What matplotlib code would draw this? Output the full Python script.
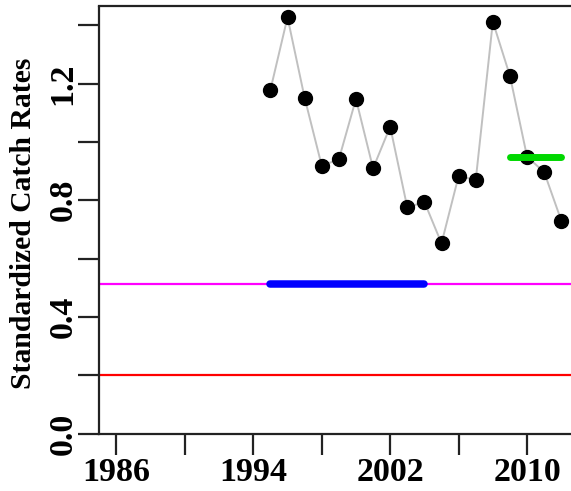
import matplotlib
matplotlib.use("Agg")
import matplotlib.pyplot as plt
from matplotlib.ticker import FixedLocator

years = [1995, 1996, 1997, 1998, 1999, 2000, 2001, 2002, 2003, 2004,
         2005, 2006, 2007, 2008, 2009, 2010, 2011, 2012]
rates = [1.178, 1.427, 1.151, 0.918, 0.940, 1.147, 0.909, 1.052, 0.775, 0.794,
         0.652, 0.883, 0.869, 1.412, 1.226, 0.949, 0.896, 0.730]

ref_magenta = 0.512
ref_red = 0.200
blue_years = [1995, 2004]
blue_value = 0.512
green_years = [2009, 2012]
green_value = 0.949

xticks_major = [1986, 1994, 2002, 2010]
xticks_minor = [1990, 1998, 2006]
yticks_major = [0.0, 0.4, 0.8, 1.2]
yticks_minor = [0.2, 0.6, 1.0, 1.4]
ytick_labels = ["0.0", "0.4", "0.8", "1.2"]

plt.rcParams['font.family'] = ['Liberation Serif', 'DejaVu Serif']
plt.rcParams['font.weight'] = 'bold'

fig = plt.figure(figsize=(5.71, 4.91), dpi=100)
ax = fig.add_axes([99.3/571, 1-433.5/491, (578.4-99.3)/571, (433.5-6.5)/491])
ax.set_xlim(1985, 2013)
ax.set_ylim(0, 1.464)

ax.axhline(ref_magenta, color='#ff00ff', lw=1.6, zorder=1)
ax.axhline(ref_red, color='#ff0000', lw=1.6, zorder=1)
ax.plot(blue_years, [blue_value]*2, color='#0000ff', lw=5.4, solid_capstyle='round', zorder=2)
ax.plot(years, rates, color='#c0c0c0', lw=1.4, zorder=3)
ax.plot(years, rates, 'o', color='black', ms=10, zorder=4)
ax.plot(green_years, [green_value]*2, color='#00d800', lw=5.0, solid_capstyle='round', zorder=5)

for s in ['left', 'bottom', 'top']:
    ax.spines[s].set_linewidth(1.6)
    ax.spines[s].set_color('#222222')
ax.spines['right'].set_visible(False)

ax.xaxis.set_major_locator(FixedLocator(xticks_major))
ax.xaxis.set_minor_locator(FixedLocator(xticks_minor))
ax.yaxis.set_major_locator(FixedLocator(yticks_major))
ax.yaxis.set_minor_locator(FixedLocator(yticks_minor))
ax.set_yticklabels(ytick_labels, rotation=90, va='center')
ax.tick_params(which='both', direction='out', length=15, width=1.6, color='#222222')
ax.tick_params(axis='x', which='major', labelsize=24.5, pad=2)
ax.tick_params(axis='y', which='major', labelsize=24.5, pad=0)
for lab in ax.get_xticklabels() + ax.get_yticklabels():
    lab.set_fontweight('bold')

fig.text(24/571, 1-223/491, 'Standardized Catch Rates', rotation=90,
         ha='center', va='center', fontsize=21.3, fontweight='bold')

fig.savefig('out.png', dpi=100)
